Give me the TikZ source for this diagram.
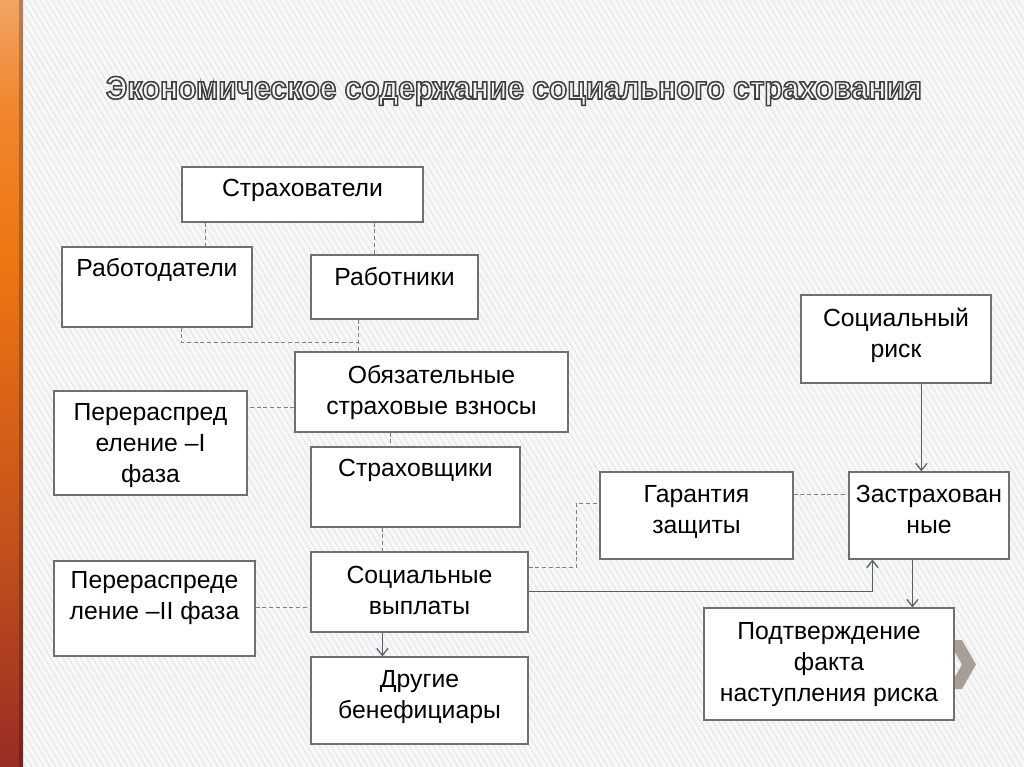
\documentclass[tikz,border=0pt]{standalone}
\usepackage{fontspec}
\setmainfont{Liberation Sans}
\newfontfamily\titlefont[FakeStretch=0.925]{Liberation Sans Bold}
\usetikzlibrary{arrows.meta,calc,fit}
\definecolor{boxline}{HTML}{707070}
\definecolor{dashgray}{HTML}{808080}
\definecolor{solidgray}{HTML}{56606A}
\definecolor{bgcol}{HTML}{F8F8F8}
\definecolor{stripe}{HTML}{E8E8E8}
\definecolor{chev}{HTML}{A69F99}
\definecolor{orA}{HTML}{9A2C24}
\definecolor{orB}{HTML}{C4521C}
\definecolor{orC}{HTML}{EE7512}
\definecolor{orD}{HTML}{F0862E}
\definecolor{orE}{HTML}{F2A464}
\definecolor{titlefill}{HTML}{F4F4F4}
\pgfdeclareverticalshading{orangebar}{100bp}{%
  color(0bp)=(orA);
  color(25bp)=(orA);
  color(40bp)=(orB);
  color(58bp)=(orC);
  color(68bp)=(orD);
  color(75bp)=(orE);
  color(100bp)=(orE)}
\newcommand{\outlinetext}[1]{\special{pdf:literal direct 2 Tr 1.1 w 0.25 0.25 0.25 RG}#1\special{pdf:literal direct 0 Tr}}
\begin{document}
\begin{tikzpicture}[x=0.025cm,y=-0.025cm,
  box/.style={draw=boxline,line width=0.85pt,fill=white,inner sep=0pt},
  txt/.style={font=\fontsize{17.6pt}{22pt}\selectfont,align=center,inner sep=0pt,anchor=north,text=black},
  dcon/.style={draw=dashgray,line width=0.75pt,dash pattern=on 2.8pt off 2pt},
  scon/.style={draw=solidgray,line width=0.9pt},
  arr/.style={scon,-{Straight Barb[length=5pt,width=8pt]}},
  ttl/.style={font=\titlefont\fontsize{23pt}{26pt}\selectfont,inner sep=0pt,anchor=base}]
\useasboundingbox (0,0) rectangle (1024,767);
% background
\fill[bgcol] (0,0) rectangle (1024,767);
\begin{scope}
\clip (23,0) rectangle (1024,767);
\foreach \s in {-500,-494,...,1030}{
  \draw[stripe,line width=0.9pt] (\s,0) -- ++(460,767);
}
\end{scope}
% orange side bar
\shade[shading=orangebar] (0,0) rectangle (23,767);
\fill[black,opacity=0.22] (19,0) rectangle (23,767);
% title
\node[ttl,text=titlefill] (title) at (514,99) {\outlinetext{Экономическое содержание социального страхования}};
% chevron
\fill[chev] (948,640) -- (962,640) -- (976,664.5) -- (962,689) -- (948,689) -- (962,664.5) -- cycle;
% boxes
\node[box,fit={(182,167)(423,222)}] (strah) {};
\node[box,fit={(62,247)(252,327)}] (rabotod) {};
\node[box,fit={(311,255)(478,319)}] (rabotn) {};
\node[box,fit={(295,352)(568,432)}] (oblig) {};
\node[box,fit={(54,391)(247,495)}] (redis1) {};
\node[box,fit={(311,447)(520,527)}] (strahov) {};
\node[box,fit={(311,552)(528,632)}] (socv) {};
\node[box,fit={(54,561)(255,656)}] (redis2) {};
\node[box,fit={(311,657)(528,744)}] (drug) {};
\node[box,fit={(600,472)(793,559)}] (garant) {};
\node[box,fit={(849,472)(1009,559)}] (zastr) {};
\node[box,fit={(801,295)(991,383)}] (socrisk) {};
\node[box,fit={(704,608)(954,720)}] (podtv) {};
% texts
\node[txt] (strahT) at ($(strah.north)+(0,8.5)$) {\strut Страхователи};
\node[txt] (rabotodT) at ($(rabotod.north)+(0,8.5)$) {\strut Работодатели};
\node[txt] (rabotnT) at ($(rabotn.north)+(0,9.5)$) {\strut Работники};
\node[txt] (obligT) at ($(oblig.north)+(0,10)$) {\strut Обязательные\\страховые взносы};
\node[txt] (redis1T) at ($(redis1.north)+(0,8.5)$) {\strut Перераспред\\еление –I\\фаза};
\node[txt] (strahovT) at ($(strahov.north)+(0,8.5)$) {\strut Страховщики};
\node[txt] (socvT) at ($(socv.north)+(0,10)$) {\strut Социальные\\выплаты};
\node[txt] (redis2T) at ($(redis2.north)+(0,6.5)$) {\strut Перераспреде\\ление –II фаза};
\node[txt] (drugT) at ($(drug.north)+(0,9.5)$) {\strut Другие\\бенефициары};
\node[txt] (garantT) at ($(garant.north)+(0,9.5)$) {\strut Гарантия\\защиты};
\node[txt] (zastrT) at ($(zastr.north)+(0,9.5)$) {\strut Застрахован\\ные};
\node[txt] (socriskT) at ($(socrisk.north)+(0,10)$) {\strut Социальный\\риск};
\node[txt] (podtvT) at ($(podtv.north)+(0,10)$) {\strut Подтверждение\\факта\\наступления риска};
% dashed connectors
\draw[dcon] ($(strah.south west)+(24,0)$) coordinate (c1) -- (c1 |- rabotod.north);
\draw[dcon] ($(strah.south west)+(193,0)$) coordinate (c2) -- (c2 |- rabotn.north);
\coordinate (c4) at ($(rabotn.south west)+(48,0)$);
\draw[dcon] ($(rabotod.south west)+(120,0)$) coordinate (c3) |- ($(c4 |- oblig.north)+(0,-9)$);
\draw[dcon] (c4) -- (c4 |- oblig.north);
\draw[dcon] ($(oblig.south west)+(0,-25)$) coordinate (c5) -- (c5 -| redis1.east);
\draw[dcon] ($(oblig.south west)+(96,0)$) coordinate (c6) -- (c6 |- strahov.north);
\draw[dcon] ($(strahov.south west)+(72,0)$) coordinate (c7) -- (c7 |- socv.north);
\draw[dcon] ($(redis2.north east)+(0,47)$) coordinate (c9) -- (c9 -| socv.west);
\draw[dcon] ($(socv.north east)+(0,16)$) coordinate (c10) -- ++(48,0) |- ($(garant.north west)+(0,32)$);
\draw[dcon] ($(garant.north east)+(0,23)$) coordinate (c12) -- (c12 -| zastr.west);
% solid connectors
\draw[arr] ($(socv.south west)+(72,0)$) coordinate (c8) -- (c8 |- drug.north);
\draw[arr] ($(socv.north east)+(0,40)$) coordinate (c11) -| ($(zastr.south west)+(24,0)$);
\draw[arr] ($(socrisk.south west)+(121,0)$) coordinate (c13) -- (c13 |- zastr.north);
\draw[arr] ($(zastr.south west)+(64,0)$) coordinate (c14) -- (c14 |- podtv.north);
\end{tikzpicture}
\end{document}
